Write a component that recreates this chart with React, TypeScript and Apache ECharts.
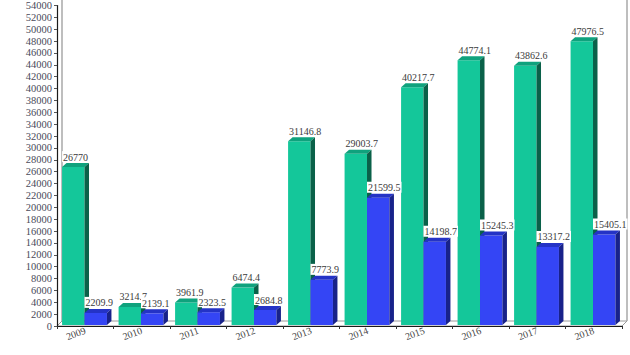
import React, { useEffect, useRef } from "react";
import * as echarts from "echarts";

const years = ["2009", "2010", "2011", "2012", "2013", "2014", "2015", "2016", "2017", "2018"];
const greenValues = [26770, 3214.7, 3961.9, 6474.4, 31146.8, 29003.7, 40217.7, 44774.1, 43862.6, 47976.5];
const blueValues = [2209.9, 2139.1, 2323.5, 2684.8, 7773.9, 21599.5, 14198.7, 15245.3, 13317.2, 15405.1];

const GRID = { left: 57, right: 8, top: 2, bottom: 29 };
const W = 630;
const H = 355;
const DX = 4.5;
const DY = 4;
const FONT = "Liberation Serif, Times New Roman, serif";

const palettes = [
  { front: "#14C79A", top: "#0FA27D", side: "#0A6149" },
  { front: "#3445F5", top: "#2433C6", side: "#18228A" },
];

const fmt = (v: number) => (Number.isInteger(v) ? String(v) : v.toFixed(1));

function makeRender(si: number) {
  const pal = palettes[si];
  return (params: any, api: any) => {
    const idx = api.value(0);
    const val = api.value(1);
    const base = api.coord([idx, 0]);
    const top = api.coord([idx, val]);
    const band = api.size([1, 0])[0];
    const start = base[0] - band / 2;
    const w = band * 0.397;
    const x0 = start + band * 0.09 + si * w;
    const ty = top[1];
    const by = base[1] - 1;
    return {
      type: "group",
      children: [
        {
          type: "rect",
          shape: { x: x0, y: ty, width: w, height: by - ty },
          style: { fill: pal.front },
        },
        {
          type: "polygon",
          shape: { points: [[x0, ty], [x0 + DX, ty - DY], [x0 + w + DX, ty - DY], [x0 + w, ty]] },
          style: { fill: pal.top },
        },
        {
          type: "polygon",
          shape: { points: [[x0 + w, ty], [x0 + w + DX, ty - DY], [x0 + w + DX, by - DY], [x0 + w, by]] },
          style: { fill: pal.side },
        },
        {
          type: "text",
          style: {
            text: fmt(val),
            x: x0,
            y: ty - DY - 1,
            align: "left",
            verticalAlign: "bottom",
            fill: "#3a3a3a",
            font: `10px ${FONT}`,
            backgroundColor: "#ffffff",
            padding: [1, 1, 0, 1],
          },
        },
      ],
    };
  };
}

export default function App() {
  const ref = useRef<HTMLDivElement>(null);
  useEffect(() => {
    if (!ref.current) return;
    const chart = echarts.init(ref.current, null, { renderer: "svg" });
    const x0 = GRID.left;
    const x1 = W - GRID.right;
    const y0 = H - GRID.bottom;
    chart.setOption({
      animation: false,
      backgroundColor: "#ffffff",
      grid: { left: GRID.left, right: GRID.right, top: GRID.top, bottom: GRID.bottom, containLabel: false },
      graphic: [
        {
          type: "polygon",
          z: 0,
          shape: { points: [[x0, y0], [x1, y0], [x1 + 5, y0 - 5], [x0 + 5, y0 - 5]] },
          style: { fill: "#ffffff", stroke: "#9a9a9a", lineWidth: 1 },
        },
        {
          type: "line",
          z: 0,
          shape: { x1: x0 + 5, y1: 0, x2: x0 + 5, y2: y0 - 5 },
          style: { stroke: "#a8a8a8", lineWidth: 1.5 },
        },
        {
          type: "line",
          z: 0,
          shape: { x1: x1 + 5, y1: 0, x2: x1 + 5, y2: y0 - 5 },
          style: { stroke: "#a8a8a8", lineWidth: 1.5 },
        },
      ],
      xAxis: {
        type: "category",
        data: years,
        axisLine: { lineStyle: { color: "#1a1a1a", width: 1.2 } },
        axisTick: { show: true, length: 3, lineStyle: { color: "#333" } },
        axisLabel: { rotate: 20, margin: 4, fontSize: 10, color: "#444", fontFamily: FONT },
        splitLine: { show: false },
      },
      yAxis: {
        type: "value",
        min: 0,
        max: 54000,
        interval: 2000,
        axisLine: { show: true, lineStyle: { color: "#1a1a1a", width: 1.2 } },
        axisTick: { show: true, length: 3, lineStyle: { color: "#555" } },
        axisLabel: {
          fontSize: 10.5,
          color: "#4a4a5a",
          fontFamily: FONT,
          margin: 5,
          formatter: (v: number) => String(v),
        },
        splitLine: { show: false },
      },
      series: [
        {
          type: "custom",
          renderItem: makeRender(0),
          data: greenValues.map((v, i) => [i, v]),
          encode: { x: 0, y: 1 },
          z: 2,
        },
        {
          type: "custom",
          renderItem: makeRender(1),
          data: blueValues.map((v, i) => [i, v]),
          encode: { x: 0, y: 1 },
          z: 3,
        },
      ],
    });
    return () => chart.dispose();
  }, []);
  return <div ref={ref} style={{ width: W, height: H, position: "absolute", left: 0, top: 0 }} />;
}
